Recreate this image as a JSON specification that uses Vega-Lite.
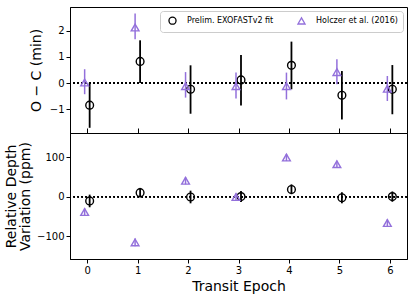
{
  "$schema": "https://vega.github.io/schema/vega-lite/v6.json",
  "padding": {"left": 4, "top": 6, "right": 8, "bottom": 4},
  "spacing": 0,
  "bounds": "flush",
  "datasets": {
    "ttv": [
      {"epoch": 0, "series": "Prelim. EXOFASTv2 fit", "oc": -0.85, "oc_lo": -1.72, "oc_hi": 0.01, "depth": -11, "depth_lo": -27, "depth_hi": 5},
      {"epoch": 1, "series": "Prelim. EXOFASTv2 fit", "oc": 0.83, "oc_lo": 0.0, "oc_hi": 1.64, "depth": 10, "depth_lo": -2, "depth_hi": 22},
      {"epoch": 2, "series": "Prelim. EXOFASTv2 fit", "oc": -0.24, "oc_lo": -1.18, "oc_hi": 0.68, "depth": -1, "depth_lo": -17, "depth_hi": 15},
      {"epoch": 3, "series": "Prelim. EXOFASTv2 fit", "oc": 0.12, "oc_lo": -0.86, "oc_hi": 1.08, "depth": 0, "depth_lo": -14, "depth_hi": 14},
      {"epoch": 4, "series": "Prelim. EXOFASTv2 fit", "oc": 0.68, "oc_lo": -0.24, "oc_hi": 1.59, "depth": 18, "depth_lo": 6, "depth_hi": 31},
      {"epoch": 5, "series": "Prelim. EXOFASTv2 fit", "oc": -0.47, "oc_lo": -1.40, "oc_hi": 0.46, "depth": -3, "depth_lo": -17, "depth_hi": 11},
      {"epoch": 6, "series": "Prelim. EXOFASTv2 fit", "oc": -0.24, "oc_lo": -1.20, "oc_hi": 0.69, "depth": 0, "depth_lo": -13, "depth_hi": 13},
      {"epoch": 0, "series": "Holczer et al. (2016)", "oc": 0.02, "oc_lo": -0.43, "oc_hi": 0.53, "depth": -39, "depth_lo": -48, "depth_hi": -30},
      {"epoch": 1, "series": "Holczer et al. (2016)", "oc": 2.13, "oc_lo": 1.68, "oc_hi": 2.67, "depth": -116, "depth_lo": -126, "depth_hi": -106},
      {"epoch": 2, "series": "Holczer et al. (2016)", "oc": -0.12, "oc_lo": -0.56, "oc_hi": 0.42, "depth": 40, "depth_lo": 31, "depth_hi": 49},
      {"epoch": 3, "series": "Holczer et al. (2016)", "oc": -0.12, "oc_lo": -0.59, "oc_hi": 0.40, "depth": -1, "depth_lo": -10, "depth_hi": 8},
      {"epoch": 4, "series": "Holczer et al. (2016)", "oc": -0.12, "oc_lo": -0.63, "oc_hi": 0.40, "depth": 99, "depth_lo": 90, "depth_hi": 108},
      {"epoch": 5, "series": "Holczer et al. (2016)", "oc": 0.42, "oc_lo": -0.05, "oc_hi": 0.91, "depth": 82, "depth_lo": 73, "depth_hi": 91},
      {"epoch": 6, "series": "Holczer et al. (2016)", "oc": -0.22, "oc_lo": -0.69, "oc_hi": 0.27, "depth": -67, "depth_lo": -76, "depth_hi": -58}
    ]
  },
  "vconcat": [
    {
      "width": 337,
      "height": 126,
      "data": {"name": "ttv"},
      "encoding": {
        "x": {"field": "epoch", "type": "quantitative", "scale": {"domain": [-0.34, 6.34], "nice": false},
              "axis": {"values": [0, 1, 2, 3, 4, 5, 6], "labels": false, "title": null, "tickSize": -5}}
      },
      "layer": [
        {"mark": {"type": "rule", "color": "black", "strokeDash": [1.5, 2.5], "strokeWidth": 1.3},
         "encoding": {"y": {"datum": 0, "type": "quantitative"}, "x": null}},
        {"transform": [{"filter": "datum.series == 'Prelim. EXOFASTv2 fit'"}],
         "mark": {"type": "rule", "strokeWidth": 1.8, "xOffset": 2.5},
         "encoding": {
           "y": {"field": "oc_lo", "type": "quantitative", "scale": {"domain": [-1.92, 2.92], "nice": false},
                 "axis": {"values": [-1, 0, 1, 2], "title": "O − C (min)", "titlePadding": 6}},
           "y2": {"field": "oc_hi"},
           "color": {"field": "series", "type": "nominal",
                     "scale": {"domain": ["Prelim. EXOFASTv2 fit", "Holczer et al. (2016)"], "range": ["black", "#9370db"]}}
         }},
        {"transform": [{"filter": "datum.series == 'Prelim. EXOFASTv2 fit'"}],
         "mark": {"type": "point", "filled": false, "size": 60, "strokeWidth": 1.4, "opacity": 1, "xOffset": 2.5},
         "encoding": {
           "y": {"field": "oc", "type": "quantitative"},
           "color": {"field": "series", "type": "nominal"},
           "shape": {"field": "series", "type": "nominal",
                     "scale": {"domain": ["Prelim. EXOFASTv2 fit", "Holczer et al. (2016)"], "range": ["circle", "triangle-up"]}}
         }},
        {"transform": [{"filter": "datum.series == 'Holczer et al. (2016)'"}],
         "mark": {"type": "rule", "strokeWidth": 1.5, "xOffset": -2.5},
         "encoding": {
           "y": {"field": "oc_lo", "type": "quantitative"},
           "y2": {"field": "oc_hi"},
           "color": {"field": "series", "type": "nominal"}
         }},
        {"transform": [{"filter": "datum.series == 'Holczer et al. (2016)'"}],
         "mark": {"type": "point", "filled": false, "size": 60, "strokeWidth": 1.4, "opacity": 1, "xOffset": -2.5},
         "encoding": {
           "y": {"field": "oc", "type": "quantitative"},
           "color": {"field": "series", "type": "nominal"},
           "shape": {"field": "series", "type": "nominal"}
         }}
      ]
    },
    {
      "width": 337,
      "height": 126,
      "data": {"name": "ttv"},
      "encoding": {
        "x": {"field": "epoch", "type": "quantitative", "scale": {"domain": [-0.34, 6.34], "nice": false},
              "axis": {"values": [0, 1, 2, 3, 4, 5, 6], "title": "Transit Epoch", "titlePadding": 4}}
      },
      "layer": [
        {"mark": {"type": "rule", "color": "black", "strokeDash": [1.5, 2.5], "strokeWidth": 1.3},
         "encoding": {"y": {"datum": 0, "type": "quantitative"}, "x": null}},
        {"transform": [{"filter": "datum.series == 'Prelim. EXOFASTv2 fit'"}],
         "mark": {"type": "rule", "strokeWidth": 1.8, "xOffset": 2.5},
         "encoding": {
           "y": {"field": "depth_lo", "type": "quantitative", "scale": {"domain": [-158, 161], "nice": false},
                 "axis": {"values": [-100, 0, 100], "title": ["Relative Depth", "Variation (ppm)"], "titlePadding": 4}},
           "y2": {"field": "depth_hi"},
           "color": {"field": "series", "type": "nominal", "legend": null}
         }},
        {"transform": [{"filter": "datum.series == 'Prelim. EXOFASTv2 fit'"}],
         "mark": {"type": "point", "filled": false, "size": 60, "strokeWidth": 1.4, "opacity": 1, "xOffset": 2.5},
         "encoding": {
           "y": {"field": "depth", "type": "quantitative"},
           "color": {"field": "series", "type": "nominal", "legend": null},
           "shape": {"field": "series", "type": "nominal", "legend": null}
         }},
        {"transform": [{"filter": "datum.series == 'Holczer et al. (2016)'"}],
         "mark": {"type": "rule", "strokeWidth": 1.5, "xOffset": -2.5},
         "encoding": {
           "y": {"field": "depth_lo", "type": "quantitative"},
           "y2": {"field": "depth_hi"},
           "color": {"field": "series", "type": "nominal", "legend": null}
         }},
        {"transform": [{"filter": "datum.series == 'Holczer et al. (2016)'"}],
         "mark": {"type": "point", "filled": false, "size": 60, "strokeWidth": 1.4, "opacity": 1, "xOffset": -2.5},
         "encoding": {
           "y": {"field": "depth", "type": "quantitative"},
           "color": {"field": "series", "type": "nominal", "legend": null},
           "shape": {"field": "series", "type": "nominal", "legend": null}
         }}
      ]
    }
  ],
  "resolve": {"legend": {"color": "independent", "shape": "independent"}},
  "config": {
    "font": "DejaVu Sans",
    "view": {"stroke": "black", "strokeWidth": 1},
    "axis": {"grid": false, "domainColor": "black", "tickColor": "black", "labelColor": "black", "titleColor": "black",
             "labelFontSize": 10, "titleFontSize": 14, "titleFontWeight": "normal", "tickSize": 4, "labelPadding": 2, "titleLineHeight": 14},
    "legend": {"orient": "top-right", "direction": "horizontal", "title": null, "labelFontSize": 8, "symbolSize": 50,
               "strokeColor": "#cccccc", "fillColor": "white", "cornerRadius": 3, "padding": 5, "offset": 4,
               "columnPadding": 20, "labelOffset": 10, "symbolStrokeWidth": 1.3, "labelColor": "black", "symbolOffset": 3}
  }
}
